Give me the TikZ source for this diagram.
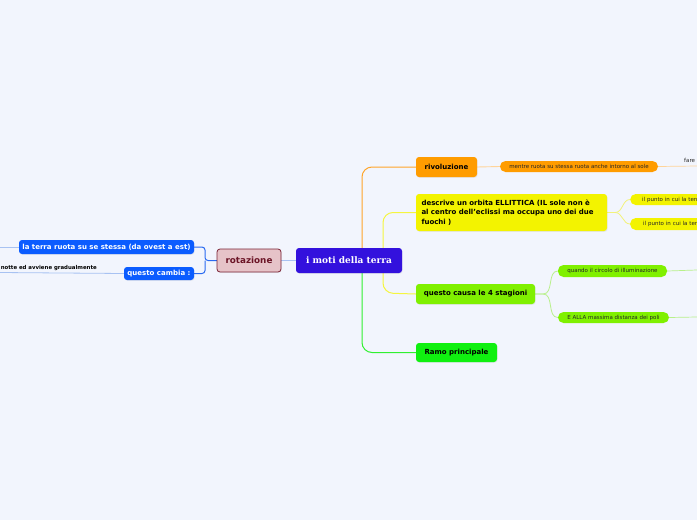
\documentclass[tikz,border=0pt]{standalone}
\usepackage{fontspec}
\setmainfont{DejaVu Sans}
\newfontfamily\ctrfont{DejaVu Serif}
\usetikzlibrary{shadows}
\definecolor{bg}{HTML}{F2F5FD}
\definecolor{ctr}{HTML}{3311DD}
\definecolor{rotfill}{HTML}{E6C3C8}
\definecolor{rotdraw}{HTML}{7B2436}
\definecolor{rottext}{HTML}{6B1426}
\definecolor{bluen}{HTML}{0B5CFF}
\definecolor{bluel}{HTML}{2A6AF0}
\definecolor{bluelight}{HTML}{A8C2F2}
\definecolor{orangen}{HTML}{FF9C00}
\definecolor{orangel}{HTML}{FFD49A}
\definecolor{yellown}{HTML}{F3F300}
\definecolor{yellowl}{HTML}{F2F27A}
\definecolor{greenq}{HTML}{80F000}
\definecolor{greenl}{HTML}{B8F08A}
\definecolor{greenr}{HTML}{10F010}
\definecolor{orangeb}{HTML}{FFA52A}
\definecolor{yellowb}{HTML}{F5F540}
\definecolor{greenb}{HTML}{30F030}
\tikzset{
  topic/.style={rounded corners=3pt, inner sep=0pt, align=center,
    font=\bfseries\fontsize{7}{9}\selectfont, text=black,
    drop shadow={opacity=0.12, shadow xshift=0.6pt, shadow yshift=-0.8pt}},
  pill/.style={rounded corners=5.5pt, inner sep=0pt, minimum height=11pt,
    font=\fontsize{5.5}{6.5}\selectfont, text=black!85},
  tiny/.style={inner sep=0pt, font=\fontsize{5.5}{6.5}\selectfont, text=black!85},
}
\begin{document}
\begin{tikzpicture}[x=1pt,y=-1pt]
\useasboundingbox (0,0) rectangle (697,520);
\fill[bg] (0,0) rectangle (697,520);
\clip (0,0) rectangle (697,520);

\coordinate (lend1) at (0,247);
\coordinate (lend2) at (0,272.5);
\coordinate (rend1) at (697,166);
\coordinate (rend2) at (697,270);
\coordinate (rend3) at (697,317);

% placeholders fixing positions
\node[minimum width=106pt, minimum height=25pt, inner sep=0pt] (ctr) at (349,260.5) {};
\node[minimum width=64pt, minimum height=23pt, inner sep=0pt] (rot) at (249,260.5) {};
\node[minimum width=175pt, minimum height=14pt, inner sep=0pt] (terra) at (106.5,247) {};
\node[minimum width=70pt, minimum height=13pt, inner sep=0pt] (cambia) at (159,273.5) {};
\node[minimum width=61pt, minimum height=20pt, inner sep=0pt] (riv) at (446.5,167) {};
\node[minimum width=158pt, minimum height=11pt, inner sep=0pt] (mentre) at (579,166.5) {};
\node[minimum width=191pt, minimum height=37pt, inner sep=0pt] (desc) at (511.5,212.5) {};
\node[minimum width=119pt, minimum height=20pt, inner sep=0pt] (quest) at (475.5,294) {};
\node[minimum width=81pt, minimum height=19pt, inner sep=0pt] (ramo) at (456.5,352.5) {};
\node[minimum width=90pt, minimum height=11pt, inner sep=0pt, anchor=west] (p1) at (630,199.5) {};
\node[minimum width=90pt, minimum height=12pt, inner sep=0pt, anchor=west] (p2) at (630,224) {};
\node[minimum width=109pt, minimum height=12pt, inner sep=0pt] (quando) at (612.5,271) {};
\node[minimum width=111pt, minimum height=11pt, inner sep=0pt] (ealla) at (613.5,317.5) {};

\draw[bluelight, line width=1pt] (ctr.west) -- (rot.east);
\draw[bluel, line width=1pt, rounded corners=3pt] (rot.west) -- (205,260.5) |- (terra.east);
\draw[bluel, line width=1pt, rounded corners=3pt] (205,260.5) |- (cambia.east);
\draw[bluelight, line width=0.8pt] (terra.west) -- (lend1);
\draw[bluelight, line width=0.8pt] (cambia.west) -- (lend2);

\draw[orangeb, line width=1pt, rounded corners=10pt] (362,248) |- (riv.west);
\draw[yellowb, line width=1pt, rounded corners=10pt] (desc.west) -| (383,293) -- (quest.west);
\draw[greenb, line width=1pt, rounded corners=10pt] (362,273) |- (ramo.west);

\draw[orangel, line width=0.9pt] (riv.east) -- (mentre.west);
\draw[orangel, line width=0.7pt] (mentre.east) -- (rend1);
\draw[yellowl, line width=0.8pt] (desc.east) -- ++(8,0) to[out=0,in=180] (p1.west);
\draw[yellowl, line width=0.8pt] (desc.east) -- ++(8,0) to[out=0,in=180] (p2.west);
\draw[greenl, line width=0.8pt] (quest.east) -- ++(8,0) to[out=0,in=180] (quando.west);
\draw[greenl, line width=0.8pt] (quest.east) -- ++(8,0) to[out=0,in=180] (ealla.west);
\draw[greenl, line width=0.7pt] (quando.east) -- (rend2);
\draw[greenl, line width=0.7pt] (ealla.east) -- (rend3);

% visible nodes
\node[topic, fill=ctr, text=white, minimum width=106pt, minimum height=25pt,
  font=\ctrfont\bfseries\fontsize{9}{11}\selectfont] at (ctr) {i moti della terra};
\node[topic, fill=rotfill, draw=rotdraw, line width=0.8pt, text=rottext,
  minimum width=64pt, minimum height=23pt, font=\bfseries\fontsize{8.8}{10}\selectfont] at (rot) {rotazione};
\node[topic, fill=bluen, text=white, minimum width=175pt, minimum height=14pt] at (terra) {la terra ruota su se stessa (da ovest a est)};
\node[topic, fill=bluen, text=white, minimum width=70pt, minimum height=13pt] at (cambia) {questo cambia :};
\node[topic, fill=orangen, minimum width=61pt, minimum height=20pt] at (riv) {rivoluzione};
\node[pill, fill=orangen, minimum width=158pt] at (mentre) {mentre ruota su stessa ruota anche intorno al sole};
\node[topic, fill=yellown, minimum width=191pt, minimum height=37pt, text width=180pt, align=left,
  font=\bfseries\fontsize{7}{9.6}\selectfont] at (desc)
  {descrive un orbita ELLITTICA (IL sole non è\\al centro dell'eclissi ma occupa uno dei due\\fuochi )};
\node[topic, fill=greenq, minimum width=119pt, minimum height=20pt] at (quest) {questo causa le 4 stagioni};
\node[topic, fill=greenr, minimum width=81pt, minimum height=19pt] at (ramo) {Ramo principale};
\node[pill, fill=yellown, minimum width=90pt, text width=84pt, align=left] at (p1) {\hspace*{9pt}il punto in cui la terra};
\node[pill, fill=yellown, minimum width=90pt, minimum height=12pt, text width=84pt, align=left] at (p2) {\hspace*{10pt}il punto in cui la terra};
\node[pill, fill=greenq, minimum width=109pt, minimum height=12pt] at (quando) {quando il circolo di illuminazione};
\node[pill, fill=greenq, minimum width=111pt] at (ealla) {E ALLA massima distanza dei poli};

\node[tiny, anchor=base east, font=\bfseries\fontsize{5.4}{6.5}\selectfont, text=black] (notte) at (97,269) {notte ed avviene gradualmente};
\node[tiny, anchor=base west] (fare) at (684,162) {fare};
\end{tikzpicture}
\end{document}
